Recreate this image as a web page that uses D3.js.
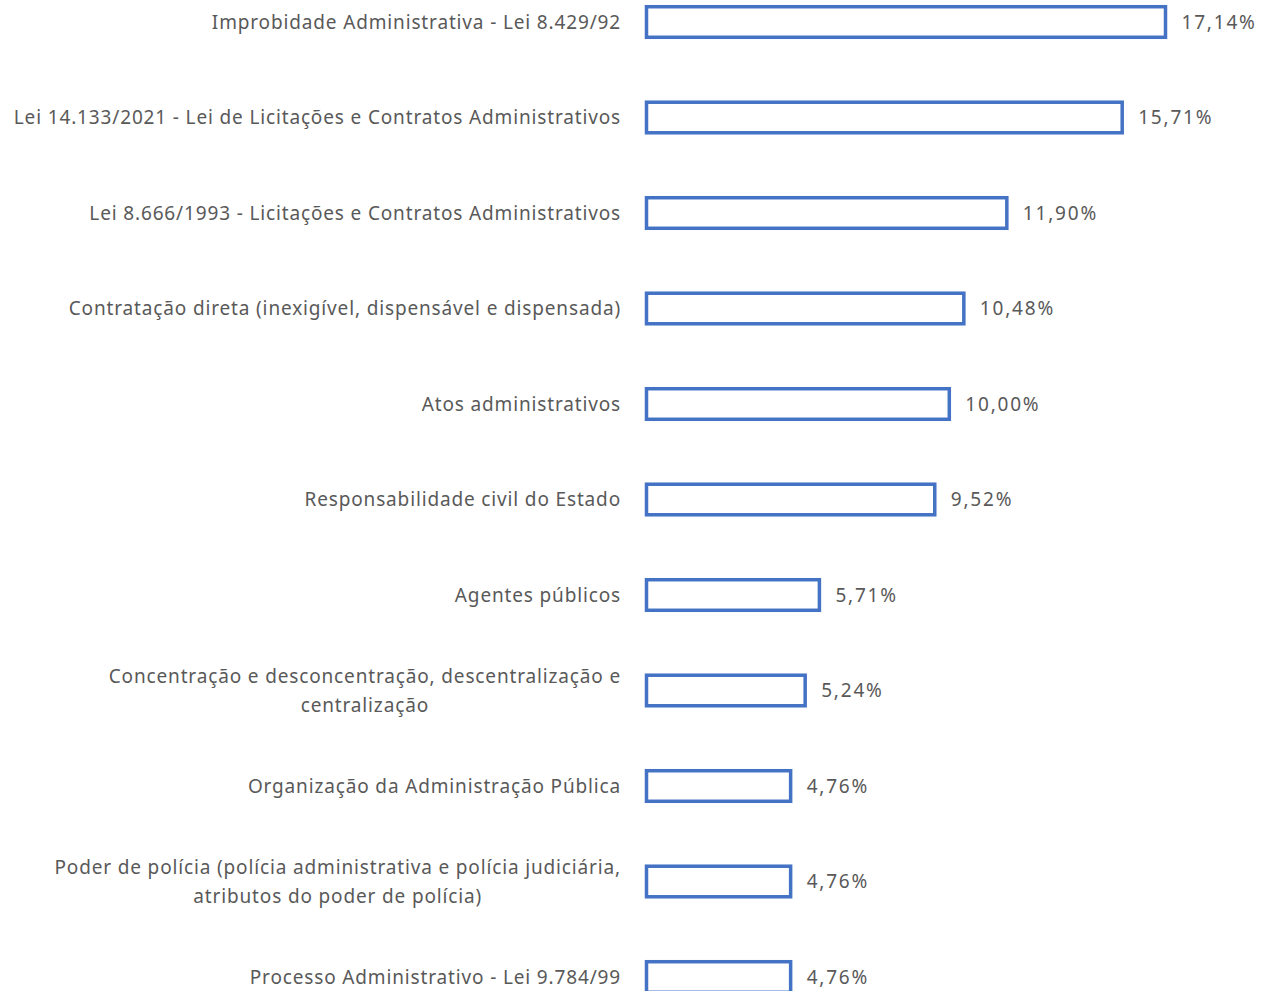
<!DOCTYPE html>
<html lang="pt">
<head>
  <meta charset="UTF-8">
  <title>Assuntos</title>
  <script src="https://cdn.jsdelivr.net/npm/d3@7"></script>
  <style>
    body { margin: 0; background: #fff; }
  </style>
</head>
<body>
<svg></svg>
<script>
  // dados do gráfico
  const categories = [
    'Improbidade Administrativa - Lei 8.429/92',
    'Lei 14.133/2021 - Lei de Licitações e Contratos Administrativos',
    'Lei 8.666/1993 - Licitações e Contratos Administrativos',
    'Contratação direta (inexigível, dispensável e dispensada)',
    'Atos administrativos',
    'Responsabilidade civil do Estado',
    'Agentes públicos',
    'Concentração e desconcentração, descentralização e\ncentralização',
    'Organização da Administração Pública',
    'Poder de polícia (polícia administrativa e polícia judiciária,\natributos do poder de polícia)',
    'Processo Administrativo - Lei 9.784/99'
  ]
  const values = [17.14, 15.71, 11.90, 10.48, 10.00, 9.52, 5.71, 5.24, 4.76, 4.76, 4.76]

  const width = 1273, height = 991
  const step = 95.5
  const labelRight = 621

  const svg = d3.select('svg')
      .attr('width', width)
      .attr('height', height)
      .attr('font-family', 'Noto Sans, sans-serif')
      .attr('font-size', '19px')
      .attr('letter-spacing', '0.85px')

  const x = d3.scaleLinear()
      .domain([0, 17.14])
      .range([646.5, 1165.5])

  const y = d3.scaleBand()
      .domain(categories)
      .range([22 - step / 2, 22 - step / 2 + step * categories.length])
      .paddingInner(0.68)
      .paddingOuter(0.34)

  const row = svg.selectAll('g.row')
      .data(categories.map((c, i) => ({cat: c, value: values[i]})))
      .join('g')
      .attr('class', 'row')

  row.append('rect')
      .attr('x', x(0))
      .attr('y', d => y(d.cat))
      .attr('width', d => x(d.value) - x(0))
      .attr('height', y.bandwidth())
      .attr('fill', '#fff')
      .attr('stroke', '#4472C4')
      .attr('stroke-width', 3.5)

  row.append('text')
      .attr('x', d => x(d.value) + 16)
      .attr('y', d => y(d.cat) + y.bandwidth() / 2)
      .attr('dy', '0.35em')
      .attr('fill', '#595959')
      .attr('letter-spacing', '1.8px')
      .text(d => d.value.toFixed(2).replace('.', ',') + '%')

  // rótulos das categorias (com quebra de linha, bloco alinhado à direita)
  const label = row.append('text')
      .attr('fill', '#595959')
      .attr('text-anchor', 'middle')
      .attr('transform', d => `translate(0,${y(d.cat) + y.bandwidth() / 2})`)

  label.selectAll('tspan')
      .data(d => {
        const lines = d.cat.split('\n')
        return lines.map((t, i) => ({t, i, n: lines.length}))
      })
      .join('tspan')
      .attr('y', d => (d.i - (d.n - 1) / 2) * 29)
      .attr('dy', '0.35em')
      .text(d => d.t)

  label.each(function () {
    const spans = d3.select(this).selectAll('tspan')
    const maxW = d3.max(spans.nodes(), n => n.getComputedTextLength())
    spans.attr('x', labelRight - maxW / 2)
  })
</script>
</body>
</html>
